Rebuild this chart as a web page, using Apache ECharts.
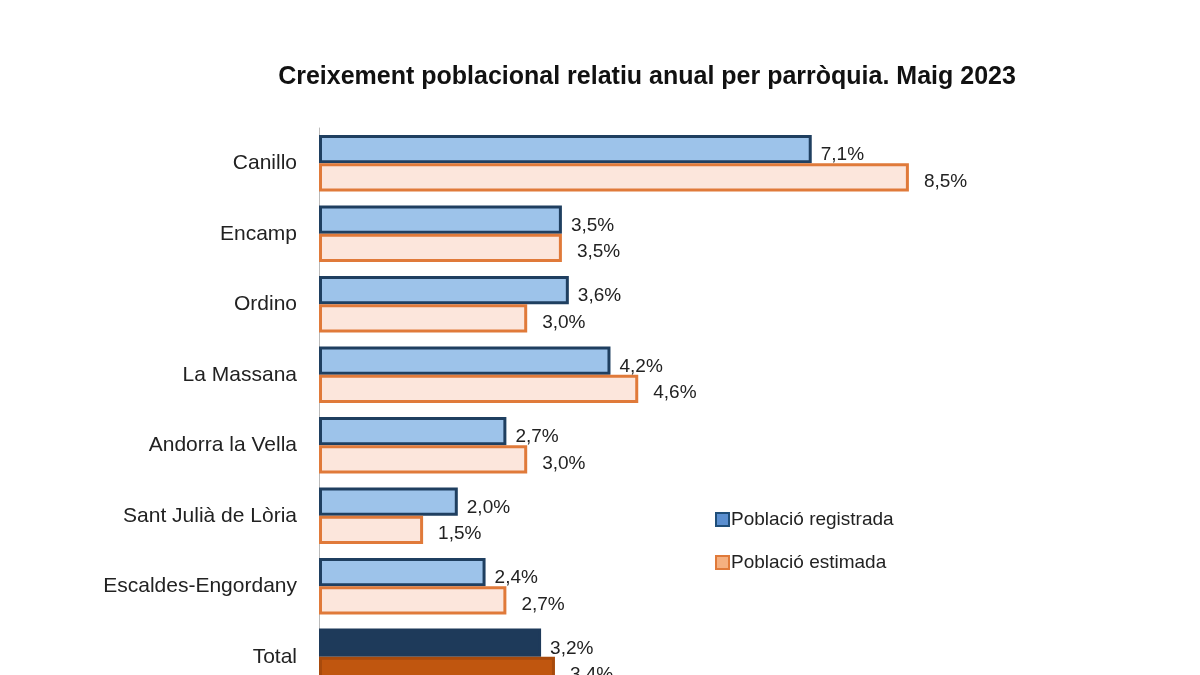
<!DOCTYPE html>
<html>
<head>
<meta charset="utf-8">
<script src="https://cdn.jsdelivr.net/npm/echarts@6/dist/echarts.min.js"></script>
<style>html,body{margin:0;padding:0;background:#fff;overflow:hidden}#main{width:1200px;height:700px}</style>
</head>
<body>
<div id="main"></div>
<script>
var categories = ['Canillo', 'Encamp', 'Ordino', 'La Massana', 'Andorra la Vella', 'Sant Julià de Lòria', 'Escaldes-Engordany', 'Total'];
var registrada = [7.1, 3.5, 3.6, 4.2, 2.7, 2.0, 2.4, 3.2];
var estimada = [8.5, 3.5, 3.0, 4.6, 3.0, 1.5, 2.7, 3.4];

var font = 'Liberation Sans, Arial, sans-serif';

function fmt(p) {
    return p.value.toFixed(1).replace('.', ',') + '%';
}

// l'última categoria (Total) va en colors foscos
function items(arr, fill, border, totFill, totBorder) {
    return arr.map(function (v, i) {
        var last = i == arr.length - 1;
        return {value: v, itemStyle: {color: last ? totFill : fill, borderColor: last ? totBorder : border}};
    });
}

var chart = echarts.init(document.getElementById('main'));
var option = {
    animation: false,
    title: {
        text: 'Creixement poblacional relatiu anual per parròquia. Maig 2023',
        left: 642, top: 60, textAlign: 'center',
        textStyle: {fontFamily: font, fontSize: 25, fontWeight: 'bold', color: '#111'}
    },
    legend: {
        orient: 'vertical', left: 710, top: 505, itemGap: 24,
        itemWidth: 13, itemHeight: 13, icon: 'rect',
        textStyle: {fontFamily: font, fontSize: 19, color: '#222', padding: [0, 0, 0, -3]},
        data: [
            {name: 'Població registrada', itemStyle: {color: '#5b8fd0', borderColor: '#1f4e79', borderWidth: 2}},
            {name: 'Població estimada', itemStyle: {color: '#f5b080', borderColor: '#e07a3a', borderWidth: 2}}
        ]
    },
    grid: {left: 319, top: 128, width: 694, bottom: 8},
    xAxis: {type: 'value', min: 0, max: 10, show: false},
    yAxis: {
        type: 'category', inverse: true, data: categories,
        axisLine: {show: true, lineStyle: {color: '#bbb'}},
        axisTick: {show: false},
        axisLabel: {fontFamily: font, fontSize: 21, color: '#222', margin: 22}
    },
    series: [
        {
            name: 'Població registrada', type: 'bar', barGap: '0%', barCategoryGap: '20%',
            data: items(registrada, '#9dc3ea', '#1f3f60', '#1e3a5a', '#1e3a5a'),
            itemStyle: {borderWidth: 3},
            label: {show: true, position: 'right', offset: [4, 6], formatter: fmt, fontFamily: font, fontSize: 19, color: '#222'}
        },
        {
            name: 'Població estimada', type: 'bar',
            data: items(estimada, '#fce6dc', '#e07a3a', '#c0560f', '#a84a0c'),
            itemStyle: {borderWidth: 3},
            label: {show: true, position: 'right', offset: [10, 4], formatter: fmt, fontFamily: font, fontSize: 19, color: '#222'}
        }
    ]
};
chart.setOption(option);
</script>
</body>
</html>
